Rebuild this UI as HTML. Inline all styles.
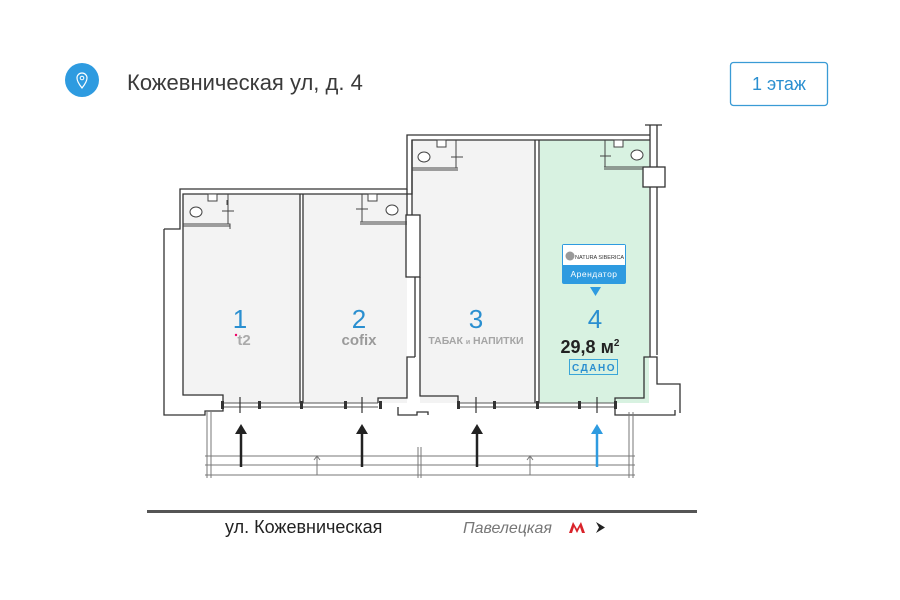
<!DOCTYPE html>
<html><head><meta charset="utf-8"><style>
body{margin:0;background:#fff;}
svg{display:block;font-family:"Liberation Sans","DejaVu Sans",sans-serif;}
</style></head><body>
<svg width="900" height="600" viewBox="0 0 900 600" xmlns="http://www.w3.org/2000/svg">
<!-- header -->
<circle cx="82" cy="80" r="17" fill="#2e9be0"/>
<path d="M82 88 C78 83 77 80 77 78 A5 5 0 0 1 87 78 C87 80 86 83 82 88Z" fill="none" stroke="#fff" stroke-width="1.2"/>
<circle cx="82" cy="78" r="1.8" fill="none" stroke="#fff" stroke-width="1"/>
<text x="127" y="90" font-size="22" fill="#3a3a3a">Кожевническая ул, д. 4</text>
<rect x="730.5" y="62.5" width="97" height="43" rx="3" fill="#fff" stroke="#3a9bd5" stroke-width="1.3"/>
<text x="779" y="90" font-size="18" fill="#2a8fd0" text-anchor="middle">1 этаж</text>

<!-- room fills -->
<rect x="183" y="194" width="117" height="209" fill="#f3f3f3"/>
<rect x="304" y="194" width="103" height="209" fill="#f3f3f3"/>
<path d="M412 140 H536 V403 H420 V215 H412Z" fill="#f3f3f3"/>
<rect x="540" y="140" width="109" height="263" fill="#d8f2e1"/>
<rect x="183" y="396" width="40" height="20" fill="#fff"/>

<g fill="none" stroke="#333" stroke-width="1.3">
<path d="M164 229 H180 V189 H407 V135 H650"/>
<path d="M183 229 V194 H412 V140 H650"/>
<path d="M650 125 V355 M657 125 V167 M657 187 V355"/>
<path d="M645 125 H662"/>
<rect x="643" y="167" width="22" height="20" fill="#fff"/>
<path d="M164 229 V415 H205 V411 H223 V395 H183 V229"/>
<path d="M300 194 V403 M303 194 V403"/>
<path d="M535 140 V403 M539 140 V403"/>
<rect x="406" y="215" width="14" height="62" fill="#fff"/>
<path d="M412 140 V215 M407 189 V215"/>
<path d="M415 277 V357 M420 277 V357"/>
<path d="M378 403 V398 H407 V357 H415 M420 357 V396 H458 V403 M398 407 V415 H417 V412 H428 V415"/>
<path d="M650 355 V357 H644 V398 H615 V403 M644 357 H657 V384 H680 V413 M615 407 V415 H675 V410"/>
<path d="M223 403 H378 M223 407 H378 M458 403 H615 M458 407 H615" stroke-width="1" stroke="#555"/>
</g>
<g fill="#333">
<rect x="221" y="401" width="3" height="8"/><rect x="258" y="401" width="3" height="8"/>
<rect x="300" y="401" width="3" height="8"/><rect x="344" y="401" width="3" height="8"/>
<rect x="379" y="401" width="3" height="8"/><rect x="457" y="401" width="3" height="8"/>
<rect x="493" y="401" width="3" height="8"/><rect x="536" y="401" width="3" height="8"/>
<rect x="578" y="401" width="3" height="8"/><rect x="614" y="401" width="3" height="8"/>
</g>
<g stroke="#333" stroke-width="1.2">
<line x1="240" y1="397" x2="240" y2="413"/><line x1="362" y1="397" x2="362" y2="413"/>
<line x1="476" y1="397" x2="476" y2="413"/><line x1="597" y1="397" x2="597" y2="413"/>
</g>
<g fill="none" stroke="#777" stroke-width="1">
<path d="M205 456 H635 M205 465 H635 M205 475 H635"/>
<path d="M207 412 V478 M211 412 V478 M418 447 V478 M421 447 V478 M629 412 V478 M633 412 V478"/>
<path d="M314 460 L317 456 L320 460 M317 456 V475 M527 460 L530 456 L533 460 M530 456 V475"/>
</g>
<g stroke-width="2.5">
<line x1="241" y1="432" x2="241" y2="467" stroke="#222"/><path d="M235 434 L241 424 L247 434Z" fill="#222"/>
<line x1="362" y1="432" x2="362" y2="467" stroke="#222"/><path d="M356 434 L362 424 L368 434Z" fill="#222"/>
<line x1="477" y1="432" x2="477" y2="467" stroke="#222"/><path d="M471 434 L477 424 L483 434Z" fill="#222"/>
<line x1="597" y1="432" x2="597" y2="467" stroke="#2e9be0"/><path d="M591 434 L597 424 L603 434Z" fill="#2e9be0"/>
</g>
<g fill="#fff" stroke="#444" stroke-width="1">
<path d="M183 224 H230 V229" fill="none"/><path d="M183 226 H230" />
<rect x="208" y="194" width="9" height="7"/><ellipse cx="196" cy="212" rx="6" ry="5"/>
<path d="M228 194 V224 M222 211 H234 M227 200 V205"/>
<path d="M360 224 H407 M360 222 H407"/>
<rect x="368" y="194" width="9" height="7"/><ellipse cx="392" cy="210" rx="6" ry="5"/>
<path d="M362 194 V222 M356 209 H368"/>
<path d="M412 168 H458 M412 170 H458"/>
<rect x="437" y="140" width="9" height="7"/><ellipse cx="424" cy="157" rx="6" ry="5"/>
<path d="M456 140 V168 M451 157 H463"/>
<path d="M604 167 H643 M604 169 H643"/>
<rect x="614" y="140" width="9" height="7"/><ellipse cx="637" cy="155" rx="6" ry="5"/>
<path d="M605 140 V167 M600 156 H611"/>
</g>
<g font-size="26" fill="#2a8fd0" text-anchor="middle">
<text x="240" y="328">1</text><text x="359" y="328">2</text><text x="476" y="328">3</text><text x="595" y="328">4</text>
</g>
<text x="244" y="345" font-size="15" font-weight="bold" fill="#aaa" text-anchor="middle">t2</text>
<circle cx="236" cy="335" r="1.2" fill="#e06"/>
<text x="359" y="345" font-size="15" font-weight="bold" fill="#9a9a9a" text-anchor="middle">cofix</text>
<text x="476" y="344" font-size="10.5" font-weight="bold" fill="#a5a5a5" text-anchor="middle">ТАБАК <tspan font-size="7">и</tspan> НАПИТКИ</text>
<text x="590" y="353" font-size="18" font-weight="bold" fill="#222" text-anchor="middle">29,8 м<tspan font-size="10" dy="-7">2</tspan></text>
<rect x="569.5" y="359.5" width="48" height="15" fill="none" stroke="#3aa6d8" stroke-width="1"/>
<text x="594" y="371" font-size="10" font-weight="bold" fill="#2a8fd0" text-anchor="middle" letter-spacing="1.5">СДАНО</text>
<rect x="562" y="244" width="64" height="40" rx="2" fill="#2e9be0"/>
<rect x="563" y="245" width="62" height="20" fill="#fff"/>
<circle cx="570" cy="256" r="4.5" fill="#999"/>
<text x="575" y="259" font-size="5.5" fill="#333">NATURA SIBERICA</text>
<text x="594" y="277" font-size="8.5" fill="#fff" text-anchor="middle" letter-spacing="0.5">Арендатор</text>
<path d="M590 287 H601 L595.5 296Z" fill="#2e9be0"/>
<rect x="147" y="510" width="550" height="3" fill="#555"/>
<text x="225" y="533" font-size="18" fill="#222">ул. Кожевническая</text>
<text x="463" y="533" font-size="16" font-style="italic" fill="#777">Павелецкая</text>
<path d="M569 533 L573 522 L577 529 L581 522 L585 533 H582 L580 527 L577 533 L574 527 L572 533Z" fill="#d9232a"/>
<path d="M596 522 L605 527.5 L596 533 L599 527.5Z" fill="#222"/>
</svg>
</body></html>
